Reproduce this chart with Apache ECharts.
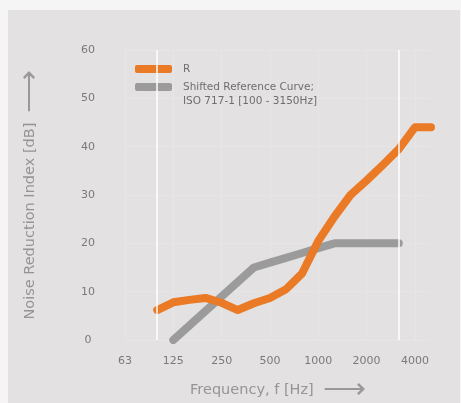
<!DOCTYPE html>
<html><head><meta charset="utf-8">
<script src="https://cdn.jsdelivr.net/npm/echarts@6/dist/echarts.min.js"></script>
<style>html,body{margin:0;padding:0;background:#f5f5f5;}#c{width:461px;height:403px;}</style>
</head><body><div id="c"></div>
<script>
// one-third-octave band centres (Hz)
var bands = ['63','80','100','125','160','200','250','315','400','500','630','800','1000','1250','1600','2000','2500','3150','4000','5000'];
var octaveLabels = ['63','125','250','500','1000','2000','4000'];
// R (measured), dB
var rValues = [null,null,6.2,7.8,8.3,8.7,7.7,6.2,7.6,8.7,10.5,13.8,20.5,25.5,30,33,36.2,39.5,44,44];
// Shifted reference curve ISO 717-1, dB
var refValues = [null,null,null,0,3,6,9,12,15,16,17,18,19,20,20,20,20,20,null,null];
var yTicks = [0,10,20,30,40,50,60];
var rangeMarks = ['100','3150'];

var FONT = 'DejaVu Sans';
var arrowStyle = {fontFamily:FONT, fontSize:30, fontWeight:200, color:'#999999'};
var chart = echarts.init(document.getElementById('c'), null, {renderer:'canvas'});
chart.setOption({
  animation:false,
  backgroundColor:'#f5f5f5',
  graphic:[{type:'rect', left:8, top:10, shape:{width:452, height:393}, style:{fill:'#e3e1e1'}, z:-10}],
  grid:{left:125, right:30, top:50, bottom:63, outerBoundsMode:'none', containLabel:false},
  legend:[
    {data:['R'], left:135, top:62, padding:0, orient:'vertical', icon:'roundRect', itemWidth:37, itemHeight:8,
     textStyle:{fontFamily:FONT, fontSize:10.5, color:'#6e6e6e', padding:[0,0,0,6], lineHeight:14}},
    {data:['Shifted Reference Curve;\nISO 717-1 [100 - 3150Hz]'], left:135, top:66, padding:0, orient:'vertical', icon:'roundRect', itemWidth:37, itemHeight:8,
     formatter:function(n){return '\u00a0\n'+n;},
     textStyle:{fontFamily:FONT, fontSize:10.5, color:'#6e6e6e', padding:[0,0,0,6], lineHeight:14}}
  ],
  xAxis:{type:'category', data:bands, boundaryGap:false,
    axisLine:{show:false}, axisTick:{show:false},
    axisLabel:{fontFamily:FONT, fontSize:11, color:'#7a7a7a', margin:16,
      interval:function(i,v){return octaveLabels.indexOf(v)>=0;}},
    splitLine:{show:true, interval:function(i,v){return octaveLabels.indexOf(v)>=0;}, lineStyle:{color:'#e7e5e5', width:1}},
    name:'Frequency, f [Hz]  {a|\u27F6}', nameLocation:'middle', nameGap:35,
    nameTextStyle:{fontFamily:FONT, fontSize:14.5, color:'#959595', rich:{a:arrowStyle}}
  },
  yAxis:{type:'value', min:0, max:60, interval:10,
    axisLine:{show:false}, axisTick:{show:false},
    axisLabel:{fontFamily:FONT, fontSize:11, color:'#7a7a7a', margin:37, align:'center'},
    splitLine:{show:true, lineStyle:{color:'#e7e5e5', width:1}},
    name:'Noise Reduction Index [dB]  {a|\u27F6}', nameLocation:'middle', nameGap:80, nameRotate:90,
    nameTextStyle:{fontFamily:FONT, fontSize:14.5, color:'#959595', rich:{a:arrowStyle}}
  },
  series:[
    {name:'Shifted Reference Curve;\nISO 717-1 [100 - 3150Hz]', type:'line', data:refValues, showSymbol:false, symbol:'none',
     color:'#9b9b9b', lineStyle:{color:'#9b9b9b', width:8, cap:'round', join:'round'},
     markLine:{silent:true, symbol:'none', label:{show:false},
       lineStyle:{color:'#ffffff', width:1.5, type:'solid'},
       data:rangeMarks.map(function(b){return {xAxis:b};})}, z:2},
    {name:'R', type:'line', data:rValues, showSymbol:false, symbol:'none',
     color:'#ea7a26', lineStyle:{color:'#ea7a26', width:8, cap:'round', join:'round'}, z:3}
  ]
});
</script></body></html>
